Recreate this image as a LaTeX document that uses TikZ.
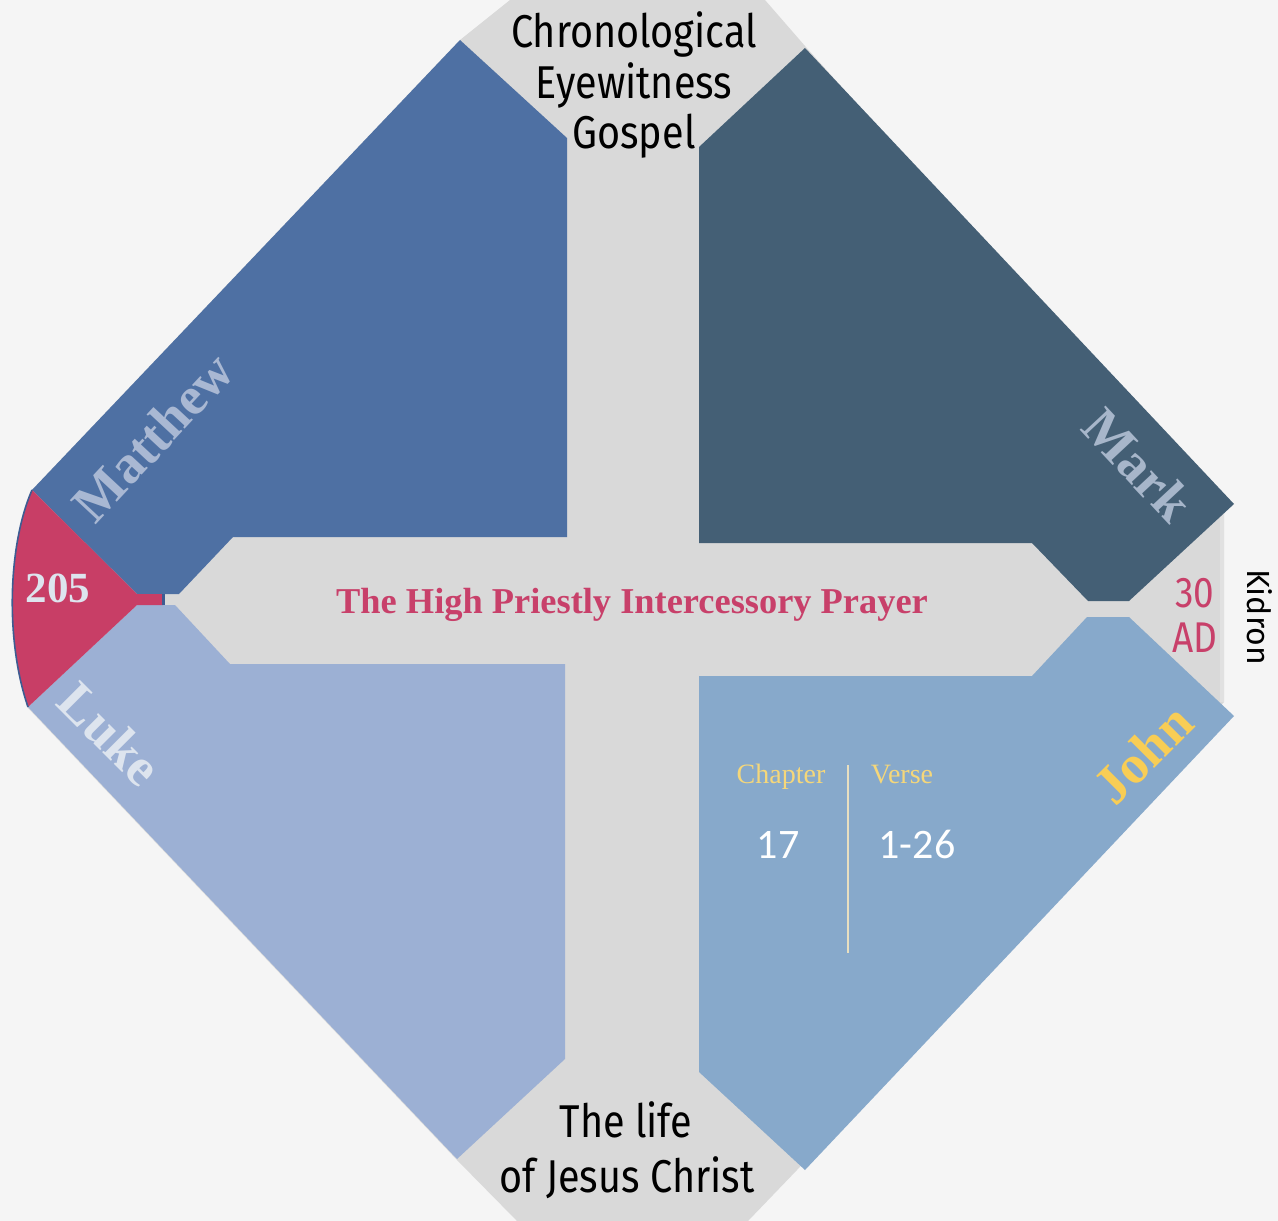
\documentclass[tikz,border=0pt]{standalone}
\usepackage{fontspec}
\newfontfamily\condfont[FakeStretch=0.86]{Fira Sans}
\newfontfamily\kidfont{Fira Sans}
\newfontfamily\serifx{Liberation Serif}
\newfontfamily\carl{Carlito}
\definecolor{bgc}{HTML}{F5F5F5}
\definecolor{grayc}{HTML}{D9D9D9}
\definecolor{matc}{HTML}{4E70A3}
\definecolor{markc}{HTML}{445F75}
\definecolor{lukec}{HTML}{9CB0D4}
\definecolor{johnc}{HTML}{87A9CB}
\definecolor{redc}{HTML}{C83E66}
\definecolor{edgec}{HTML}{3D5C92}
\definecolor{mattext}{HTML}{A9B8D3}
\definecolor{marktext}{HTML}{A7B6CA}
\definecolor{luketext}{HTML}{DDE4EE}
\definecolor{johntext}{HTML}{F8CD55}
\definecolor{goldc}{HTML}{F5D77A}
\definecolor{creamc}{HTML}{E8DFC0}
\definecolor{titlec}{HTML}{C8406A}
\tikzset{
  bigsans/.style={inner sep=0pt, font=\condfont\fontsize{46}{51}\selectfont, text=black},
  adtext/.style={inner sep=0pt, font=\condfont\fontsize{43}{45}\selectfont, text=titlec},
  gname/.style={inner sep=0pt, font=\serifx\bfseries\fontsize{54}{58}\selectfont},
  smallserif/.style={inner sep=0pt, font=\serifx\fontsize{28}{30}\selectfont, text=goldc},
  numtext/.style={inner sep=0pt, font=\carl\fontsize{42}{44}\selectfont, text=white},
}
\begin{document}
\begin{tikzpicture}[x=1pt,y=-1pt]
\fill[bgc] (0,0) rectangle (1278,1221);
\useasboundingbox (0,0) rectangle (1278,1221);
% gray octagon background
\fill[grayc] (460,40) -- (510,0) -- (765,0) -- (805,46) -- (1224,513) -- (1224,702)
  -- (797,1170) -- (748,1221) -- (517,1221) -- (457,1160) -- (28,708) -- (32,490) -- cycle;
\fill[grayc!80!white] (1220,513) rectangle (1224,702);
% quadrants
\fill[matc] (460,40) -- (567,138) -- (567,537) -- (233,537) -- (179,594) -- (137,594) -- (32,490) -- cycle;
\fill[markc] (805,48) -- (699,147) -- (699,543) -- (1032,543) -- (1088,601) -- (1129,601) -- (1234,504) -- cycle;
\fill[johnc] (1087,617) -- (1129,617) -- (1234,716) -- (805,1170) -- (699,1072) -- (699,676) -- (1032,676) -- cycle;
\fill[lukec] (137,605) -- (175,605) -- (230,664) -- (565,664) -- (565,1059) -- (457,1159) -- (28,707) -- cycle;
% red wedge
\fill[redc] (32,490) -- (137,594) -- (163,594) -- (163,605) -- (137,605) -- (28,707)
  .. controls (5,640) and (8,545) .. (32,490) -- cycle;
\draw[edgec, line width=1.6pt] (28,707) .. controls (5,640) and (8,545) .. (32,490);
\fill[edgec] (162,594) rectangle (165,605);
% top and bottom labels
\node[bigsans, anchor=base] (c1) at (634,47) {Chronological};
\node[bigsans, anchor=base] (c2) at (634,98) {Eyewitness};
\node[bigsans, anchor=base] (c3) at (634,148) {Gospel};
\node[bigsans, anchor=base] (l1) at (626,1137) {The life};
\node[bigsans, anchor=base] (l2) at (627,1192) {of Jesus Christ};
% title
\node[inner sep=0pt, anchor=base, font=\serifx\bfseries\fontsize{36.4}{40}\selectfont, text=titlec] (title) at (632,613) {The High Priestly Intercessory Prayer};
% 205
\node[inner sep=0pt, anchor=base, font=\serifx\bfseries\fontsize{43}{45}\selectfont, text=luketext] (num) at (58,602) {205};
% 30 AD
\node[adtext, anchor=base] (y1) at (1195,607) {30};
\node[adtext, anchor=base] (y2) at (1195,652) {AD};
\node[inner sep=0pt, font=\kidfont\fontsize{32}{34}\selectfont, rotate=-90] (kid) at (1260,617) {Kidron};
% gospel names
\node[gname, text=mattext, rotate=47] (mat) at (153,437) {Matthew};
\node[gname, text=marktext, rotate=-47] (mark) at (1138,465) {Mark};
\node[gname, text=luketext, rotate=-45] (luke) at (110,734) {Luke};
\node[gname, text=johntext, rotate=45] (john) at (1143,754) {John};
% chapter / verse
\node[smallserif, anchor=base] (chap) at (781,783) {Chapter};
\node[smallserif, anchor=base] (verse) at (902,783) {Verse};
\node[numtext, anchor=base] (ch) at (778,858) {17};
\node[numtext, anchor=base] (vs) at (917,858) {1-26};
\coordinate (vtop) at (848,765);
\coordinate (vbot) at (848,953);
\draw[creamc, line width=2.5pt] (vtop) -- (vbot);
\end{tikzpicture}
\end{document}
